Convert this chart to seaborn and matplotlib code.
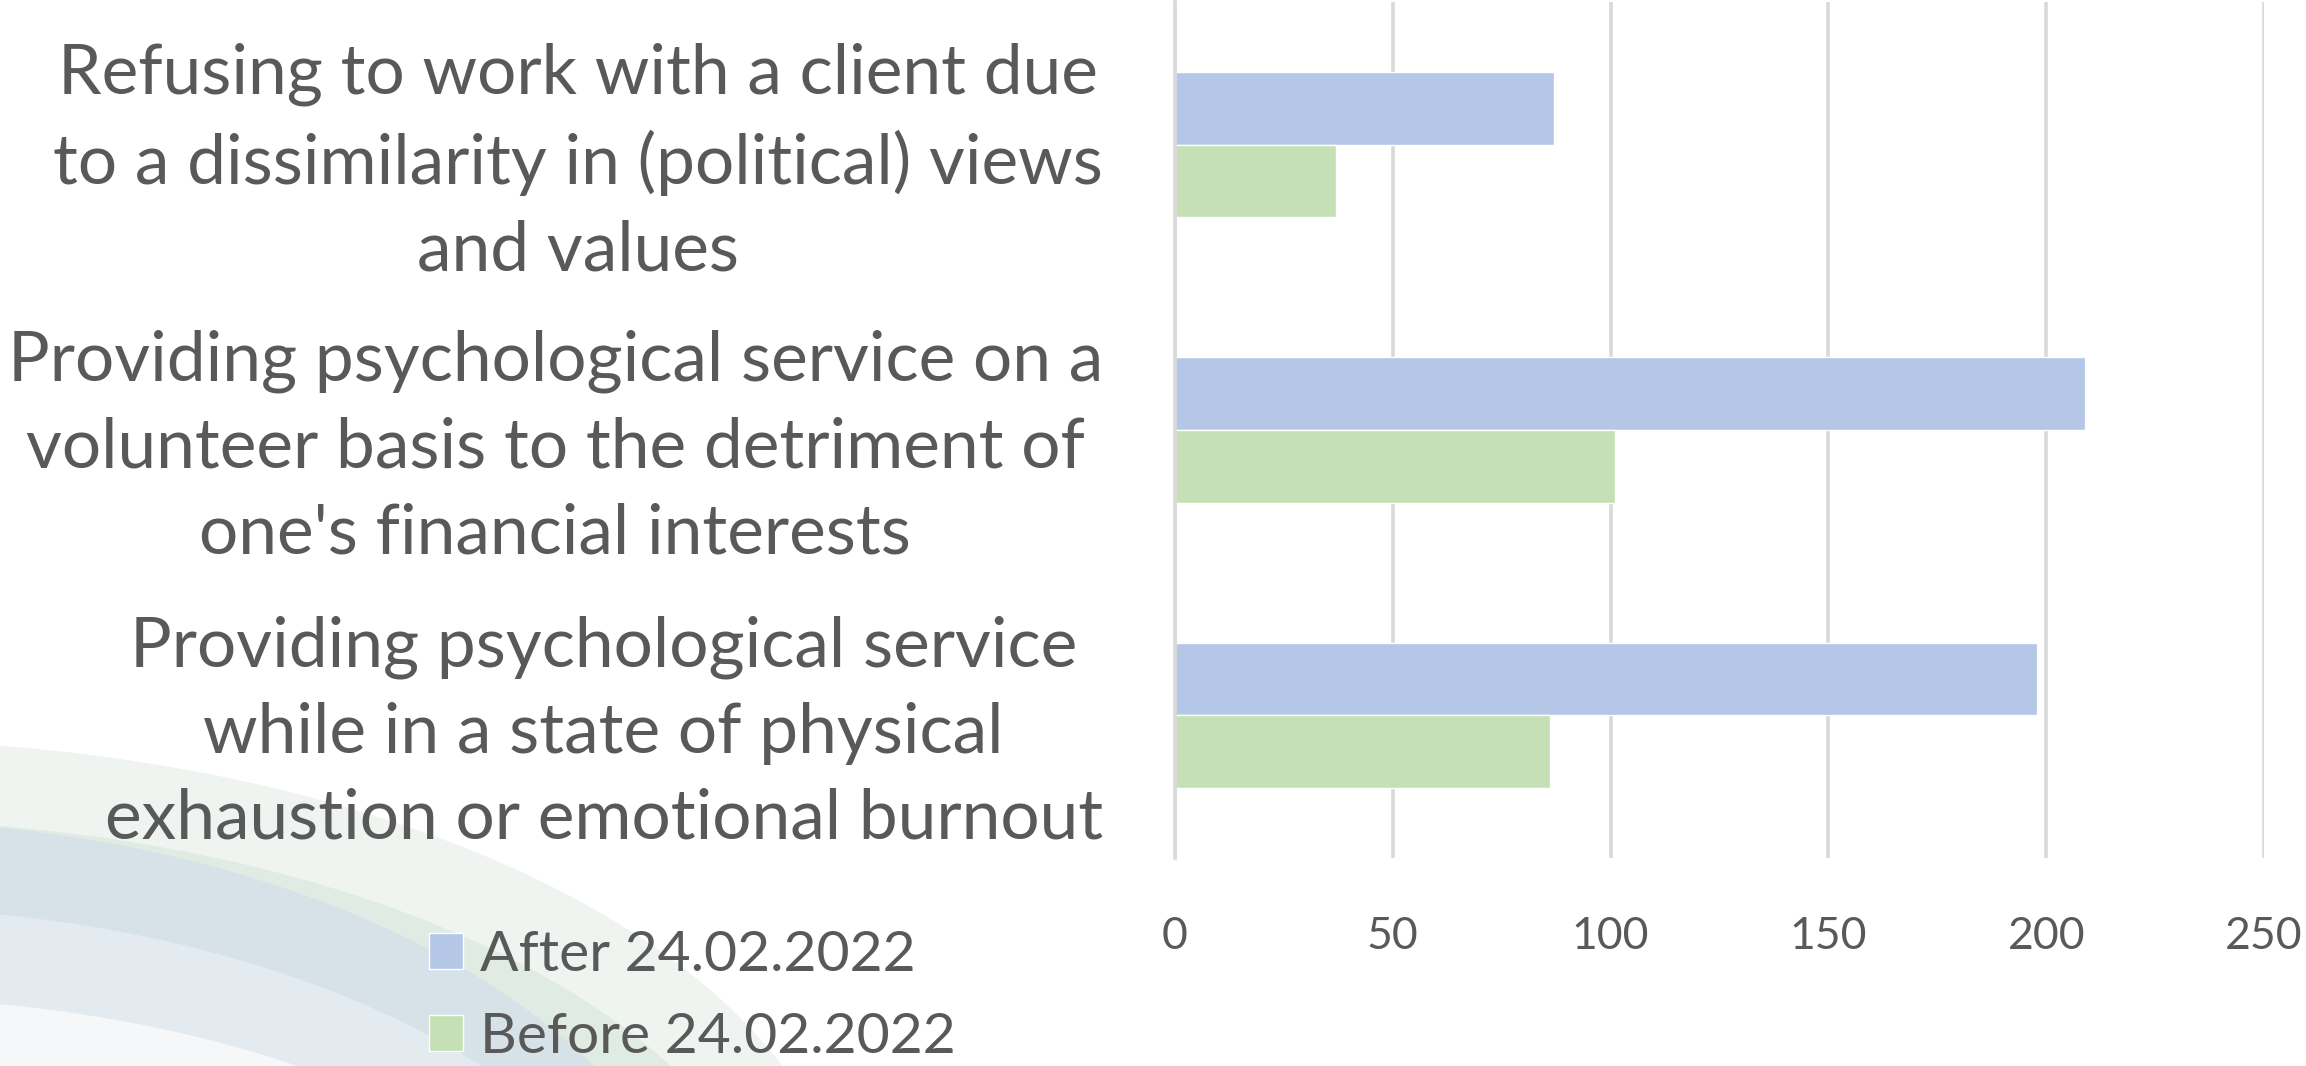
import matplotlib
matplotlib.use("Agg")
import matplotlib.pyplot as plt
from matplotlib.patches import Ellipse
import seaborn as sns
import pandas as pd

# Chart data
items = [
    "Refusing to work with a client due\nto a dissimilarity in (political) views\nand values",
    "Providing psychological service on a\nvolunteer basis to the detriment of\none's financial interests",
    "Providing psychological service\nwhile in a state of physical\nexhaustion or emotional burnout",
]
after_counts = [87, 209, 198]
before_counts = [37, 101, 86]
periods = ["After 24.02.2022", "Before 24.02.2022"]
x_ticks = [0, 50, 100, 150, 200, 250]

sns.set_theme(style="white")
plt.rcParams['font.family'] = ['Lato', 'DejaVu Sans']

text_color = '#595959'
palette = {periods[0]: '#B4C7E7', periods[1]: '#C5E0B4'}

df = pd.DataFrame({
    'Item': items * 2,
    'Count': after_counts + before_counts,
    'Period': [periods[0]] * 3 + [periods[1]] * 3,
})

fig = plt.figure(figsize=(23.06, 10.66), dpi=100)

# decorative swoosh in the lower-left corner
bg = fig.add_axes([0, 0, 1, 1], zorder=-1)
bg.set_xlim(0, 2306)
bg.set_ylim(1066, 0)
bg.axis('off')
swoosh = [
    ((-150, 1250), 2000, 1020, '#EFF4F0'),
    ((-150, 1300), 1880, 960, '#E0EBE3'),
    ((-150, 1330), 1740, 1020, '#D6E2E8'),
    ((-150, 1360), 1660, 906, '#E4EBF0'),
    ((-150, 1400), 1600, 806, '#F5F7F8'),
]
for center, w, h, c in swoosh:
    bg.add_patch(Ellipse(center, w, h, facecolor=c, edgecolor='none'))

ax = fig.add_axes([1175 / 2306, 1 - 858 / 1066, (2264 - 1175) / 2306, 856 / 1066])
ax.patch.set_alpha(0)

sns.barplot(data=df, y='Item', x='Count', hue='Period', orient='h',
            palette=palette, saturation=1, width=0.51, ax=ax, legend=True)

ax.set_xlim(0, 250)
ax.set_xticks(x_ticks)
ax.set_xlabel('')
ax.set_ylabel('')
ax.xaxis.grid(True, color='#D9D9D9', linewidth=2.6)
ax.set_axisbelow(True)
for s in ['top', 'right', 'bottom']:
    ax.spines[s].set_visible(False)
ax.spines['left'].set_color('#D9D9D9')
ax.spines['left'].set_linewidth(2.6)
ax.tick_params(axis='x', length=0, pad=42, labelsize=32, labelcolor=text_color)
ax.tick_params(axis='y', length=0, pad=52, labelsize=50, labelcolor=text_color)
for lbl in ax.get_yticklabels():
    lbl.set_multialignment('center')
    lbl.set_linespacing(1.45)

handles, labels = ax.get_legend_handles_labels()
ax.get_legend().remove()
fig.legend(handles, labels, loc='upper left', bbox_to_anchor=(429 / 2306, 1 - 930 / 1066),
           frameon=False, fontsize=41, labelcolor=text_color,
           handlelength=0.6, handleheight=0.6, handletextpad=0.3, labelspacing=0.55,
           borderaxespad=0, borderpad=0)

fig.savefig('out.png', dpi=100)
